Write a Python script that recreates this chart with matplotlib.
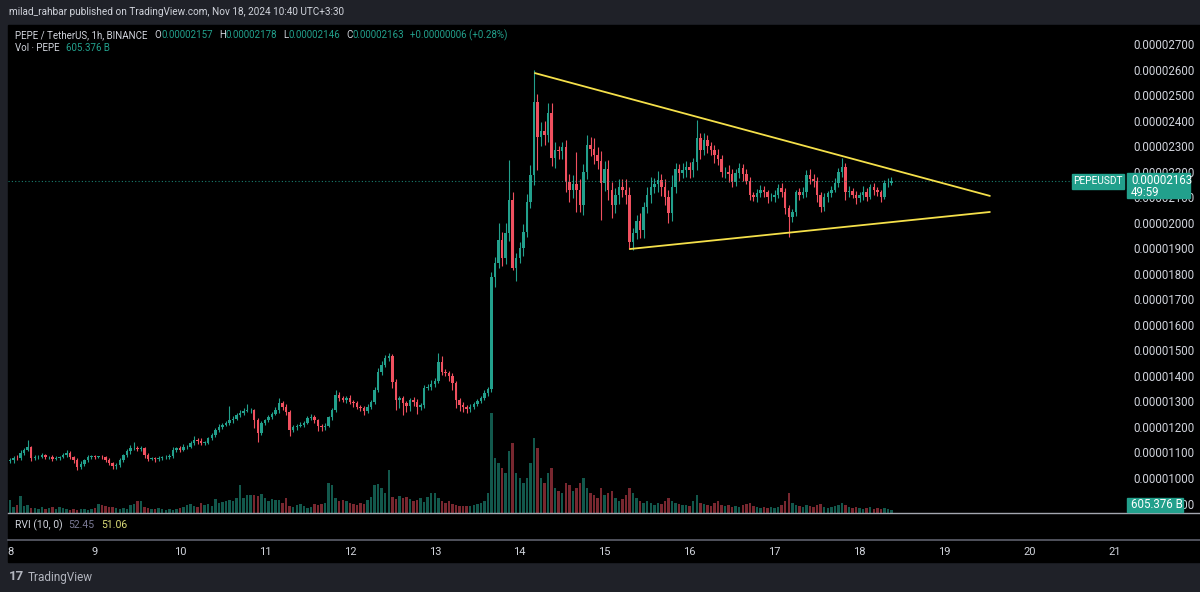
import matplotlib
matplotlib.use('Agg')
import matplotlib.pyplot as plt
from matplotlib.patches import Rectangle
from matplotlib.lines import Line2D
import numpy as np

plt.rcParams['font.family'] = ['Roboto', 'DejaVu Sans']

W, H = 1200, 592

# PEPE/USDT 1h candles from Nov 8 00:00, prices in units of 1e-8 USDT
first_open = 1065
closes = [
    1070, 1080, 1078, 1097, 1110, 1120, 1077, 1081, 1084, 1090,
    1081, 1083, 1076, 1080, 1083, 1090, 1099, 1081,
    1070, 1044, 1055, 1070, 1081, 1086, 1083, 1083, 1081,
    1070, 1057, 1047, 1051, 1070, 1090, 1104, 1116, 1116,
    1112, 1116, 1090, 1075, 1077, 1073, 1079, 1081,
    1084, 1086, 1110, 1116, 1110, 1120, 1123, 1136, 1149, 1146,
    1138, 1138, 1155, 1168, 1188, 1201, 1208, 1217, 1227, 1232,
    1247, 1256, 1264, 1266, 1266, 1227, 1178, 1214, 1227, 1238,
    1251, 1266, 1295, 1279, 1260, 1190, 1198, 1204, 1208, 1217,
    1234, 1238, 1227, 1204, 1198, 1204, 1238, 1266, 1325, 1312,
    1306, 1312, 1299, 1293, 1279, 1273, 1264, 1279, 1299,
    1345, 1417, 1443, 1469, 1478, 1377, 1306, 1312, 1293, 1282,
    1306, 1299, 1279, 1286, 1351, 1358, 1368, 1380, 1456, 1417,
    1410, 1400, 1371, 1306, 1286, 1279, 1269, 1279, 1290,
    1303, 1312, 1332, 1347,
    1787, 1842, 1932, 1862, 1960, 2089, 1823, 1862, 1900, 1964,
    2081, 2187, 2473, 2336, 2360, 2345, 2430, 2253, 2285, 2280,
    2295, 2160, 2128, 2150, 2130, 2069, 2200, 2304, 2290, 2265,
    2240, 2156, 2210, 2130, 2069, 2110, 2140, 2130, 2110, 1924,
    1960, 2007, 1971, 2062, 2109, 2140, 2150, 2167, 2140, 2100,
    2038, 2140, 2210, 2195, 2205, 2218, 2205, 2238, 2332, 2285,
    2325, 2300, 2285, 2265, 2250, 2199, 2200, 2190, 2160, 2195,
    2214, 2190, 2165, 2109, 2101, 2117, 2128, 2120, 2101, 2101,
    2110, 2135, 2120, 2058, 2022, 2040, 2120, 2110, 2120, 2187,
    2170, 2165, 2110, 2062, 2101, 2115, 2130, 2156, 2199, 2218,
    2120, 2125, 2110, 2097, 2110, 2120, 2101, 2140, 2130, 2120,
    2101, 2156, 2157, 2163,
]

upper_wick = [
    8, 6, 10, 12, 8, 29, 6, 8, 6, 8,
    6, 5, 8, 6, 5, 8, 10, 6,
    6, 8, 10, 6, 8, 5, 6, 5, 8,
    6, 10, 6, 8, 10, 6, 8, 12, 26,
    8, 10, 6, 8, 6, 5, 6, 5,
    6, 8, 10, 6, 8, 12, 6, 8, 15, 6,
    10, 8, 6, 8, 6, 10, 8, 6, 55, 10,
    8, 10, 12, 25, 8, 6, 10, 8, 6, 10,
    8, 12, 17, 8, 10, 6, 8, 6, 10, 8,
    10, 12, 8, 6, 8, 10, 6, 10, 20, 12,
    8, 10, 12, 8, 10, 6, 8, 10, 8,
    10, 12, 15, 12, 10, 8, 12, 10, 8, 10,
    8, 12, 10, 8, 12, 10, 15, 10, 32, 20,
    10, 8, 12, 10, 8, 10, 8, 10, 8,
    8, 10, 12, 10,
    20, 25, 67, 30, 40, 157, 30, 20, 25, 30,
    30, 40, 125, 30, 35, 40, 39, 40, 30, 15,
    20, 30, 30, 35, 127, 40, 30, 40, 30, 40,
    30, 40, 30, 35, 30, 25, 30, 30, 40, 30,
    20, 25, 30, 20, 30, 40, 25, 35, 25, 30,
    30, 45, 25, 20, 30, 25, 20, 15, 70, 20,
    25, 20, 15, 20, 25, 15, 20, 25, 20, 15,
    20, 15, 20, 15, 10, 15, 20, 15, 10, 15,
    20, 15, 20, 15, 10, 15, 10, 15, 20, 19,
    25, 20, 15, 10, 15, 10, 15, 20, 15, 35,
    15, 20, 10, 15, 10, 25, 15, 10, 15, 10,
    10, 12, 20, 15,
]

lower_wick = [
    6, 10, 8, 6, 8, 6, 10, 6, 8, 6,
    8, 6, 10, 6, 8, 5, 6, 8,
    10, 13, 8, 6, 8, 6, 8, 6, 5,
    8, 6, 10, 12, 6, 8, 6, 8, 6,
    6, 8, 10, 8, 6, 10, 6, 8,
    6, 8, 6, 10, 8, 6, 8, 6, 6, 12,
    8, 10, 6, 8, 6, 8, 10, 6, 8, 12,
    6, 8, 10, 6, 12, 30, 36, 10, 8, 6,
    8, 6, 10, 12, 15, 25, 8, 10, 6, 8,
    6, 8, 12, 20, 15, 8, 6, 10, 8, 12,
    10, 12, 8, 15, 10, 12, 18, 10, 8,
    10, 8, 12, 10, 12, 25, 40, 30, 45, 25,
    20, 15, 30, 12, 10, 8, 12, 10, 8, 15,
    12, 20, 25, 30, 25, 20, 15, 12, 10,
    8, 10, 8, 10,
    10, 40, 20, 30, 25, 30, 8, 50, 20, 30,
    20, 25, 40, 130, 35, 40, 30, 30, 40, 30,
    30, 40, 45, 30, 88, 27, 40, 30, 30, 35,
    30, 146, 30, 40, 51, 30, 35, 30, 35, 27,
    30, 25, 30, 30, 25, 30, 25, 30, 35, 30,
    40, 30, 25, 30, 20, 25, 30, 25, 30, 35,
    20, 25, 20, 30, 25, 20, 25, 30, 20, 15,
    20, 25, 15, 20, 15, 20, 15, 20, 25, 15,
    20, 15, 20, 25, 78, 20, 15, 20, 15, 20,
    20, 25, 30, 20, 15, 20, 15, 10, 15, 20,
    30, 20, 15, 25, 15, 20, 15, 10, 20, 15,
    20, 10, 15, 11,
]

# volume, trillions of PEPE
volume_t = [
    2.6, 1.2, 1.6, 3.4, 1.4, 1.6, 1.0, 1.0, 0.8, 1.2,
    0.8, 1.0, 1.2, 0.8, 1.2, 1.0, 0.8, 0.6, 0.8, 0.6,
    0.8, 0.8, 0.6, 0.8, 1.0, 1.8, 1.6, 1.4, 1.2, 1.2,
    1.0, 0.8, 1.0, 0.8, 1.6, 1.8, 2.4, 2.4, 1.2, 1.0,
    0.8, 0.8, 1.0, 0.8, 0.6, 0.8, 0.6, 0.8, 1.0, 1.2,
    1.6, 1.8, 1.4, 1.2, 2.0, 1.6, 1.8, 1.4, 2.8, 2.0,
    2.2, 2.4, 2.6, 2.4, 3.0, 5.6, 3.0, 3.6, 3.6, 3.6,
    3.4, 3.8, 3.0, 2.4, 2.8, 2.6, 2.6, 2.0, 3.0, 1.4,
    1.2, 1.6, 1.8, 1.4, 1.0, 1.2, 1.8, 1.6, 1.8, 2.0,
    6.0, 5.6, 3.0, 2.4, 2.6, 2.4, 2.0, 1.8, 1.6, 2.0,
    1.8, 2.6, 3.2, 5.6, 5.8, 5.0, 4.0, 8.6, 3.2, 2.8,
    3.4, 3.0, 3.2, 2.8, 2.4, 2.6, 3.0, 2.2, 3.2, 4.0,
    4.0, 3.0, 2.4, 2.0, 2.4, 1.8, 1.6, 1.4, 1.4, 1.4,
    1.4, 1.6, 1.8, 2.0, 2.4, 4.0,
    20.0, 11.0, 10.0, 9.0, 8.0, 12.4, 14.0, 8.0, 7.0, 6.0,
    7.0, 10.0, 15.0, 13.0, 7.0, 6.0, 8.0, 9.0, 5.0, 4.4,
    4.0, 6.0, 5.6, 4.4, 5.0, 6.0, 7.0, 5.0, 4.0, 3.6,
    3.0, 5.0, 3.6, 4.0, 4.4, 3.0, 2.4, 2.8, 3.6, 5.0,
    4.0, 3.0, 2.4, 2.0, 2.4, 2.0, 1.6, 2.0, 1.8, 2.4,
    3.0, 2.4, 2.0, 1.8, 1.6, 1.6, 1.4, 2.4, 3.6, 2.0,
    1.8, 1.6, 1.4, 2.0, 2.4, 1.6, 1.4, 1.6, 1.2, 1.4,
    1.2, 1.6, 1.8, 2.0, 1.4, 1.2, 1.0, 1.2, 1.0, 1.2,
    1.0, 1.2, 1.6, 2.4, 4.0, 2.0, 1.6, 1.4, 1.2, 1.6,
    1.4, 1.2, 1.6, 1.8, 1.2, 1.0, 1.2, 1.4, 1.6, 2.0,
    1.6, 1.2, 1.0, 1.2, 1.0, 0.8, 1.0, 1.2, 0.8, 1.0,
    0.8, 1.0, 0.8, 0.6,
]

day_labels = ['8', '9', '10', '11', '12', '13', '14', '15', '16', '17', '18', '19', '20', '21']
hours_per_day = 24

# triangle drawn on the chart: (candle index, price)
trend_upper = [(148.3, 2586), (276.8, 2105)]
trend_lower = [(175.1, 1897), (276.8, 2042)]

last_price = 2163
price_ticks = list(range(900, 2800, 100))

UP = '#22a08c'
DOWN = '#f0505f'
TXT = '#d1d4dc'

# pixel layout of the TradingView snapshot
PANE_L, PRICE_X = 8, 1125
TOP, MAIN_B, RVI_B, TIME_B = 25, 513, 540, 562
X0, DX = 10, 3.54  # x pixel of first candle, pixels per candle


def fx(x):
    return x / W


def fy(y):
    return 1 - y / H


fig = plt.figure(figsize=(W / 100, H / 100), dpi=100, facecolor='#1f2128')
fig.patches.append(Rectangle((fx(PANE_L), fy(TIME_B)), 1 - fx(PANE_L), (TIME_B - TOP) / H,
                             transform=fig.transFigure, color='black', zorder=-5))

xlim = ((PANE_L - X0) / DX, (PRICE_X - X0) / DX)

ax = fig.add_axes([fx(PANE_L), fy(MAIN_B), (PRICE_X - PANE_L) / W, (MAIN_B - TOP) / H])
axv = ax.twinx()
ax.set_zorder(2)
axv.set_zorder(1)
ax.patch.set_visible(False)
axv.patch.set_visible(False)

c = np.array(closes, dtype=float)
o = np.array([first_open] + closes[:-1], dtype=float)
hi = np.maximum(o, c) + np.array(upper_wick)
lo = np.minimum(o, c) - np.array(lower_wick)
idx = np.arange(len(c))
up = c >= o
cols = np.where(up, UP, DOWN)

# volume underneath
vcols = [(0.13, 0.63, 0.55, 0.55) if u else (0.94, 0.31, 0.37, 0.5) for u in up]
axv.bar(idx, volume_t, width=0.7, color=vcols, linewidth=0)
axv.set_ylim(0, (MAIN_B - TOP) / 5)
axv.set_yticks([])

ax.vlines(idx, lo, hi, colors=cols, lw=0.8)
ax.bar(idx, np.maximum(np.abs(c - o), 1.5), bottom=np.minimum(o, c), width=0.7,
       color=cols, linewidth=0)

ax.axhline(last_price, color=UP, lw=0.8, ls=(0, (1, 2)), alpha=0.8)

for line in (trend_upper, trend_lower):
    xs, ys = zip(*line)
    ax.plot(xs, ys, color='#f5e04a', lw=1.3, solid_capstyle='round')

ylo = 2700 - (MAIN_B - 44) / 0.2553
yhi = 2700 + (44 - TOP) / 0.2553
ax.set_ylim(ylo, yhi)
ax.set_xlim(*xlim)
axv.set_xlim(*xlim)
ax.yaxis.tick_right()
ax.set_yticks(price_ticks)
ax.set_yticklabels(['{:.8f}'.format(p * 1e-8) for p in price_ticks])
ax.tick_params(axis='y', length=0, pad=6, labelsize=8.3, labelcolor=TXT)
ax.set_xticks([])
for a in (ax, axv):
    for s in a.spines.values():
        s.set_visible(False)

# RVI pane with time axis under it
axr = fig.add_axes([fx(PANE_L), fy(RVI_B), (PRICE_X - PANE_L) / W, (RVI_B - MAIN_B) / H])
axr.patch.set_visible(False)
axr.set_xlim(*xlim)
axr.set_xticks([k * hours_per_day for k in range(len(day_labels))])
axr.set_xticklabels(day_labels)
axr.tick_params(axis='x', length=0, pad=5, labelsize=8, labelcolor=TXT)
axr.set_yticks([])
for s in axr.spines.values():
    s.set_visible(False)

fig.add_artist(Line2D([fx(PANE_L), 1], [fy(MAIN_B), fy(MAIN_B)], color='#a3a6af', lw=1))
fig.add_artist(Line2D([fx(PANE_L), 1], [fy(RVI_B), fy(RVI_B)], color='#5d606b', lw=1.2))

renderer = fig.canvas.get_renderer()


def text_run(x, y, pieces, size, weight='normal'):
    for s, color, gap in pieces:
        t = fig.text(fx(x), fy(y), s, color=color, fontsize=size, va='center', ha='left',
                     fontweight=weight)
        x = t.get_window_extent(renderer=renderer).x1 + gap


def label_box(x0, y0, x1, y1, color):
    fig.patches.append(Rectangle((fx(x0), fy(y1)), (x1 - x0) / W, (y1 - y0) / H,
                                 transform=fig.transFigure, color=color, zorder=5))


fig.text(fx(9), fy(12), 'milad_rahbar published on TradingView.com, Nov 18, 2024 10:40 UTC+3:30',
         color=TXT, fontsize=7.2, va='center')

text_run(15, 35, [('PEPE / TetherUS, 1h, BINANCE', TXT, 7),
                  ('O', TXT, 0), ('0.00002157', UP, 6),
                  ('H', TXT, 0), ('0.00002178', UP, 6),
                  ('L', TXT, 0), ('0.00002146', UP, 6),
                  ('C', TXT, 0), ('0.00002163', UP, 6),
                  ('+0.00000006 (+0.28%)', UP, 0)], 7)
text_run(15, 48, [('Vol · PEPE', TXT, 6), ('605.376 B', UP, 0)], 7)
text_run(15, 525, [('RVI (10, 0)', TXT, 6), ('52.45', '#7b7a96', 6), ('51.06', '#dede7a', 0)], 7.5)

# price labels on the right scale
label_box(1072, 174, 1124, 189, UP)
fig.text(fx(1098), fy(181.5), 'PEPEUSDT', color='white', fontsize=7.3, ha='center', va='center', zorder=6)
label_box(1127, 173, 1190, 198, UP)
fig.text(fx(1131), fy(180), '0.00002163', color='white', fontsize=8.3, va='center', zorder=6)
fig.text(fx(1131), fy(192), '49:59', color='white', fontsize=8.3, va='center', zorder=6)
label_box(1127, 498, 1183, 512, UP)
fig.text(fx(1131), fy(505), '605.376 B', color='white', fontsize=8.3, va='center', zorder=6)

text_run(9, 577, [('17', '#b2b5be', 3)], 9.5, weight='bold')
text_run(28, 577, [('TradingView', '#b2b5be', 0)], 8.5)

fig.savefig('out.png', dpi=100, facecolor=fig.get_facecolor())
